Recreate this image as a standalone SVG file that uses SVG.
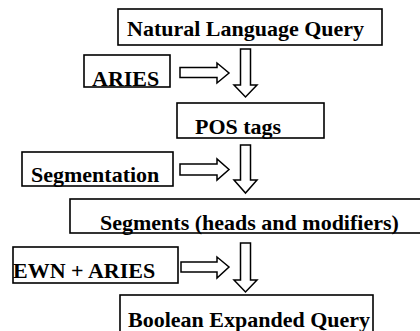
<svg xmlns="http://www.w3.org/2000/svg" width="420" height="331" viewBox="0 0 420 331">
<style>
.box{fill:#fff;stroke:#000;stroke-width:1.6}
.t{font-family:'Liberation Serif','Times New Roman',Times,serif;font-weight:700;font-size:22px;fill:#000}
.arr{fill:#fff;stroke:#000;stroke-width:1.5;stroke-linejoin:miter}
</style>
<rect width="420" height="331" fill="#fff"/>
<g id="nlq"><rect class="box" x="118" y="9" width="264" height="36"/><text class="t" font-family="Liberation Serif, serif" x="127" y="36">Natural Language Query</text></g>
<g id="aries"><rect class="box" x="84" y="55" width="86" height="32"/><text class="t" font-family="Liberation Serif, serif" x="92" y="86">ARIES</text></g>
<g id="pos"><rect class="box" x="177" y="103" width="147" height="35"/><text class="t" font-family="Liberation Serif, serif" x="195" y="134">POS tags</text></g>
<g id="segmentation"><rect class="box" x="22" y="152" width="151" height="34"/><text class="t" font-family="Liberation Serif, serif" x="31" y="182">Segmentation</text></g>
<g id="segments"><rect class="box" x="70" y="199" width="360" height="34"/><text class="t" font-family="Liberation Serif, serif" x="100" y="230">Segments (heads and modifiers)</text></g>
<g id="ewn"><rect class="box" x="13" y="247" width="165" height="36"/><text class="t" font-family="Liberation Serif, serif" x="13" y="278">EWN + ARIES</text></g>
<g id="boolean"><rect class="box" x="120" y="295" width="253" height="45"/><text class="t" font-family="Liberation Serif, serif" x="128" y="327">Boolean Expanded Query</text></g>
<g id="connectors">
<path class="arr" d="M180,67.5H217V63L229,73L217,83V77.5H180Z"/>
<path class="arr" d="M240.5,49V85H234L245.5,97L257,85H250.5V49Z"/>
<path class="arr" d="M180,164H217V159L229,169.5L217,180V175H180Z"/>
<path class="arr" d="M240.5,145V180H234L245.5,193L257,180H250.5V145Z"/>
<path class="arr" d="M181,262H217V257L229,267L217,278V272H181Z"/>
<path class="arr" d="M240.5,243V280H234L245.5,292L257,280H250.5V243Z"/>
</g>
</svg>
